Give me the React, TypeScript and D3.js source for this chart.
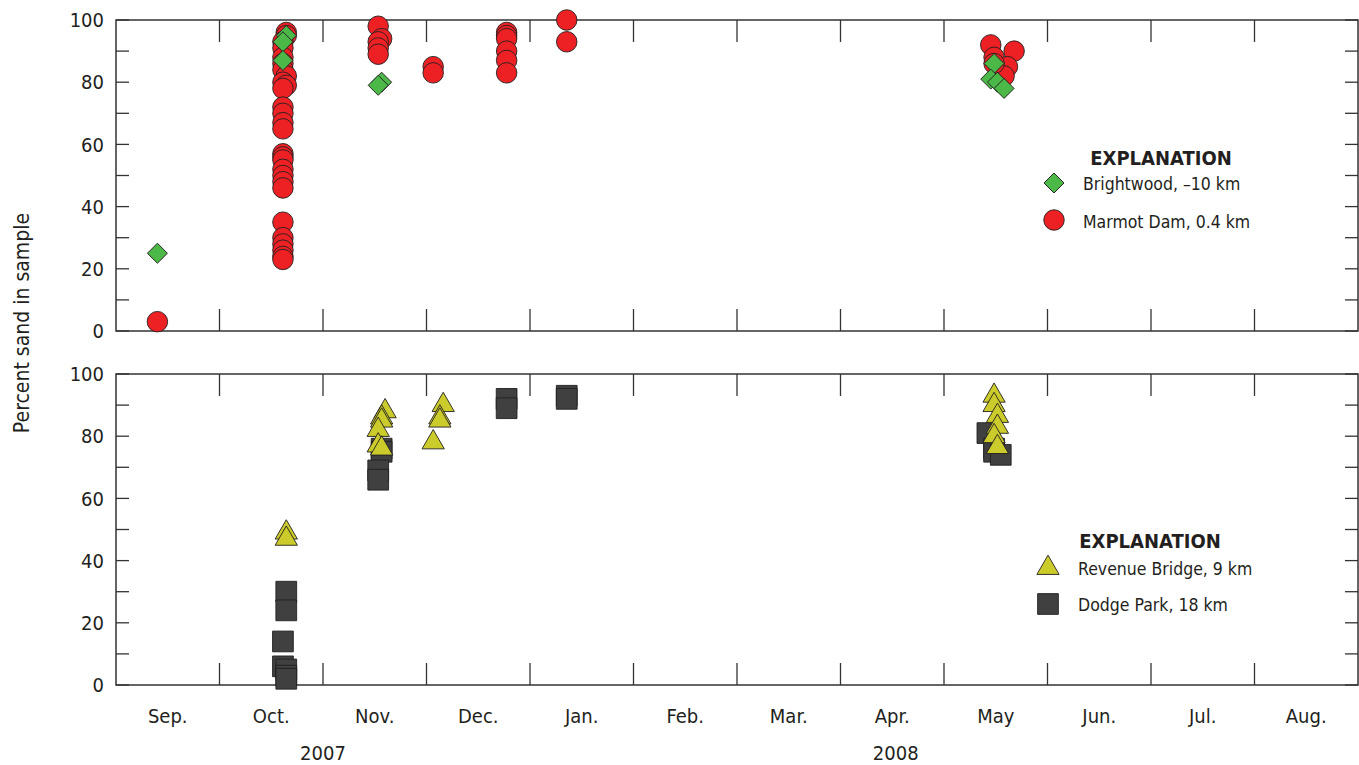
import * as d3 from "d3";

type Pt = [string, number];

// Percent sand in sample
const brightwood: Pt[] = [
  ["2007-09-13", 25],
  ["2007-10-21", 95], ["2007-10-20", 93], ["2007-10-20", 87],
  ["2007-11-18", 80], ["2007-11-17", 79],
  ["2008-05-16", 86], ["2008-05-15", 81], ["2008-05-17", 80], ["2008-05-19", 78],
];

const marmot: Pt[] = [
  ["2007-09-13", 3],
  ["2007-10-21", 96], ["2007-10-21", 95], ["2007-10-20", 93], ["2007-10-20", 91],
  ["2007-10-20", 88], ["2007-10-20", 86], ["2007-10-20", 84], ["2007-10-21", 82],
  ["2007-10-20", 80], ["2007-10-21", 79], ["2007-10-20", 78], ["2007-10-20", 72],
  ["2007-10-20", 70], ["2007-10-20", 67], ["2007-10-20", 65], ["2007-10-20", 57],
  ["2007-10-20", 56], ["2007-10-20", 55], ["2007-10-20", 52], ["2007-10-20", 50],
  ["2007-10-20", 48], ["2007-10-20", 46], ["2007-10-20", 35], ["2007-10-20", 30],
  ["2007-10-20", 28], ["2007-10-20", 26], ["2007-10-20", 24], ["2007-10-20", 23],
  ["2007-11-17", 98], ["2007-11-18", 94], ["2007-11-17", 93], ["2007-11-17", 91], ["2007-11-17", 89],
  ["2007-12-03", 85], ["2007-12-03", 83],
  ["2007-12-25", 96], ["2007-12-25", 95], ["2007-12-25", 94], ["2007-12-25", 90],
  ["2007-12-25", 87], ["2007-12-25", 83],
  ["2008-01-12", 100], ["2008-01-12", 93],
  ["2008-05-15", 92], ["2008-05-16", 88], ["2008-05-22", 90], ["2008-05-20", 85],
  ["2008-05-19", 82], ["2008-05-16", 86],
];

const revenue: Pt[] = [
  ["2007-10-21", 49], ["2007-10-21", 47],
  ["2007-11-19", 88], ["2007-11-18", 86], ["2007-11-18", 85], ["2007-11-17", 82],
  ["2007-11-17", 77], ["2007-11-18", 76],
  ["2007-12-06", 90], ["2007-12-05", 86], ["2007-12-05", 85], ["2007-12-03", 78],
  ["2008-05-16", 93], ["2008-05-16", 90], ["2008-05-17", 86.5], ["2008-05-17", 83],
  ["2008-05-16", 80], ["2008-05-17", 76.5],
];

const dodge: Pt[] = [
  ["2007-10-21", 30], ["2007-10-21", 24], ["2007-10-20", 14], ["2007-10-20", 6],
  ["2007-10-21", 5], ["2007-10-21", 3], ["2007-10-21", 2],
  ["2007-11-18", 76], ["2007-11-18", 75], ["2007-11-17", 69], ["2007-11-17", 66],
  ["2007-12-25", 92], ["2007-12-25", 89],
  ["2008-01-12", 93], ["2008-01-12", 92],
  ["2008-05-14", 81], ["2008-05-16", 76], ["2008-05-16", 75], ["2008-05-18", 74],
];

const monthLabels = ["Sep.", "Oct.", "Nov.", "Dec.", "Jan.", "Feb.", "Mar.", "Apr.", "May", "Jun.", "Jul.", "Aug."];
const yearLabels: Pt[] = [["2007-11-01", 2007], ["2008-04-17", 2008]];
const yTicks = [0, 20, 40, 60, 80, 100];

const W = 1359;
const H = 765;
const left = 116;
const right = 1358;
const panels = [
  { top: 20, bottom: 331 },
  { top: 374, bottom: 685 },
];

const FONT = "'Liberation Sans Narrow', 'DejaVu Sans Condensed', 'Arial Narrow', sans-serif";
const STROKE = "#231f20";
const AXIS = "#333";

const colors = {
  brightwood: "#4cb848",
  marmot: "#ed2024",
  revenue: "#cbcb2b",
  dodge: "#404040",
};

const parse = d3.timeParse("%Y-%m-%d");
// months drawn at equal widths, as in the figure
const monthStarts = d3.timeMonth.range(new Date(2007, 8, 1), new Date(2008, 8, 2));
const x = d3.scaleTime()
  .domain(monthStarts)
  .range(monthStarts.map((_, i) => left + (i * (right - left)) / 12));
const months = monthStarts.slice(0, 12);

const circlePath = d3.symbol(d3.symbolCircle, 330)()!;
const diamondPath = d3.symbol(d3.symbolSquare, 200)()!;
const trianglePath = d3.symbol(d3.symbolTriangle, 215)()!;
const squarePath = d3.symbol(d3.symbolSquare, 430)()!;

function Frame({ top, bottom }: { top: number; bottom: number }) {
  const y = d3.scaleLinear().domain([0, 100]).range([bottom, top]);
  const minor = d3.range(0, 101, 10);
  return (
    <g>
      <rect x={left} y={top} width={right - left} height={bottom - top}
        fill="none" stroke={AXIS} strokeWidth={1.5} />
      {minor.map((v) => (
        <g key={v}>
          <line x1={left} x2={left + 13} y1={y(v)} y2={y(v)} stroke={AXIS} strokeWidth={1.3} />
          <line x1={right - 13} x2={right} y1={y(v)} y2={y(v)} stroke={AXIS} strokeWidth={1.3} />
        </g>
      ))}
      {monthStarts.slice(1, 12).map((m, i) => (
        <g key={i}>
          <line x1={x(m)} x2={x(m)} y1={top} y2={top + 22} stroke={AXIS} strokeWidth={1.3} />
          <line x1={x(m)} x2={x(m)} y1={bottom - 22} y2={bottom} stroke={AXIS} strokeWidth={1.3} />
        </g>
      ))}
      {yTicks.map((v) => (
        <text key={v} x={104} y={y(v)} dy="0.36em" textAnchor="end"
          fontSize={20} fontFamily={FONT} fill="#231f20">{v}</text>
      ))}
    </g>
  );
}

function Marks({ data, path, color, rotate, top, bottom }:
  { data: Pt[]; path: string; color: string; rotate?: number; top: number; bottom: number }) {
  const y = d3.scaleLinear().domain([0, 100]).range([bottom, top]);
  return (
    <g>
      {data.map(([d, v], i) => (
        <path key={i} d={path}
          transform={`translate(${x(parse(d)!)},${y(v)})${rotate ? ` rotate(${rotate})` : ""}`}
          fill={color} stroke={STROKE} strokeWidth={0.9} />
      ))}
    </g>
  );
}

export default function App() {
  const [p1, p2] = panels;
  return (
    <svg width={W} height={H} style={{ position: "absolute", left: 0, top: 0, background: "#fff" }}>
      <Frame {...p1} />
      <Frame {...p2} />

      <Marks data={marmot} path={circlePath} color={colors.marmot} {...p1} />
      <Marks data={brightwood} path={diamondPath} color={colors.brightwood} rotate={45} {...p1} />
      <Marks data={dodge} path={squarePath} color={colors.dodge} {...p2} />
      <Marks data={revenue} path={trianglePath} color={colors.revenue} {...p2} />

      {months.map((m, i) => (
        <text key={i} x={(x(m) + x(monthStarts[i + 1])) / 2} y={723} textAnchor="middle"
          fontSize={20} fontFamily={FONT} fill="#231f20">{monthLabels[i]}</text>
      ))}
      {yearLabels.map(([d, yr]) => (
        <text key={yr} x={x(parse(d)!)} y={760} textAnchor="middle"
          fontSize={20} fontFamily={FONT} fill="#231f20">{yr}</text>
      ))}

      <text transform="translate(29,323) rotate(-90)" textAnchor="middle"
        fontSize={21} fontFamily={FONT} fill="#231f20">Percent sand in sample</text>

      {/* Legends */}
      <g fontFamily={FONT} fill="#231f20">
        <text x={1161} y={165} textAnchor="middle" fontSize={20} fontWeight="bold">EXPLANATION</text>
        <path d={diamondPath} transform="translate(1054,183) rotate(45)" fill={colors.brightwood} stroke={STROKE} strokeWidth={0.9} />
        <text x={1083} y={184} dy="0.35em" fontSize={17.5}>Brightwood, –10 km</text>
        <path d={circlePath} transform="translate(1054,220)" fill={colors.marmot} stroke={STROKE} strokeWidth={0.9} />
        <text x={1083} y={222} dy="0.35em" fontSize={17.5}>Marmot Dam, 0.4 km</text>

        <text x={1150} y={548} textAnchor="middle" fontSize={20} fontWeight="bold">EXPLANATION</text>
        <path d={trianglePath} transform="translate(1048,568)" fill={colors.revenue} stroke={STROKE} strokeWidth={0.9} />
        <text x={1078} y={569} dy="0.35em" fontSize={17.5}>Revenue Bridge, 9 km</text>
        <path d={squarePath} transform="translate(1048,604)" fill={colors.dodge} stroke={STROKE} strokeWidth={0.9} />
        <text x={1078} y={605} dy="0.35em" fontSize={17.5}>Dodge Park, 18 km</text>
      </g>
    </svg>
  );
}
